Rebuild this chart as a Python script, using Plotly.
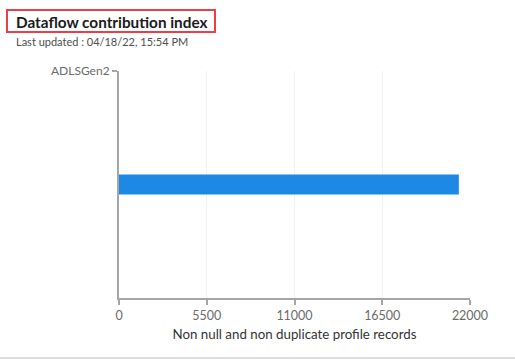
import plotly.graph_objects as go

categories = ["ADLSGen2"]
values = [21300]
x_ticks = [0, 5500, 11000, 16500, 22000]
title_text = "Dataflow contribution index"
subtitle_text = "Last updated : 04/18/22, 15:54 PM"
x_title = "Non null and non duplicate profile records"

W, H = 515, 363
L, R, T, B = 119, 45, 71, 65
pw, ph = W - L - R, H - T - B

def px(xp):
    return (xp - L) / pw

def py(yp):
    return (H - B - yp) / ph

fig = go.Figure()
fig.add_trace(go.Bar(
    x=values,
    y=list(range(len(categories))),
    orientation="h",
    width=0.088,
    marker=dict(color="#1e88e5", line=dict(width=0)),
    hoverinfo="x",
))

fig.update_layout(
    width=W, height=H,
    margin=dict(l=L, r=R, t=T, b=B),
    paper_bgcolor="white",
    plot_bgcolor="white",
    font=dict(family="Lato, sans-serif", size=12, color="#666666"),
    showlegend=False,
    xaxis=dict(
        range=[0, 22000],
        tickvals=x_ticks,
        ticktext=[str(v) for v in x_ticks],
        showgrid=True, gridcolor="#f1f1f1", gridwidth=1,
        zeroline=False,
        showline=True, linecolor="#a6a6a6", linewidth=2,
        ticks="outside", ticklen=5, tickcolor="#a6a6a6", tickwidth=2,
        tickfont=dict(size=12.5, color="#6b6b6b"),
        title=dict(text=x_title, font=dict(size=13.3, color="#333333"), standoff=8),
    ),
    yaxis=dict(
        range=[-0.5, 0.5],
        tickvals=[0.5],
        ticktext=categories,
        showgrid=True, gridcolor="#f1f1f1", gridwidth=1,
        zeroline=False,
        showline=True, linecolor="#a6a6a6", linewidth=2,
        ticks="outside", ticklen=5, tickcolor="#a6a6a6", tickwidth=2,
        tickfont=dict(size=12, color="#6b6b6b"),
    ),
    annotations=[
        dict(
            text="<b>" + title_text + "</b>",
            xref="paper", yref="paper",
            x=px(15), y=py(22),
            xanchor="left", yanchor="middle",
            showarrow=False, borderpad=0,
            font=dict(size=15.3, color="#1a1a1a", family="Lato, sans-serif"),
        ),
        dict(
            text=subtitle_text,
            xref="paper", yref="paper",
            x=px(15), y=py(42),
            xanchor="left", yanchor="middle",
            showarrow=False, borderpad=0,
            font=dict(size=11, color="#4d4d4d", family="Lato, sans-serif"),
        ),
    ],
    shapes=[
        dict(
            type="rect", xref="paper", yref="paper",
            x0=px(7), x1=px(215), y0=py(10), y1=py(32),
            line=dict(color="#e8404a", width=2), fillcolor="rgba(0,0,0,0)",
        ),
        dict(
            type="line", xref="paper", yref="paper",
            x0=px(0), x1=px(W), y0=py(358), y1=py(358),
            line=dict(color="#dddddd", width=2),
        ),
    ],
)

fig.write_html("out.html", config={"displayModeBar": False},
               post_script="document.body.style.margin='0';")
